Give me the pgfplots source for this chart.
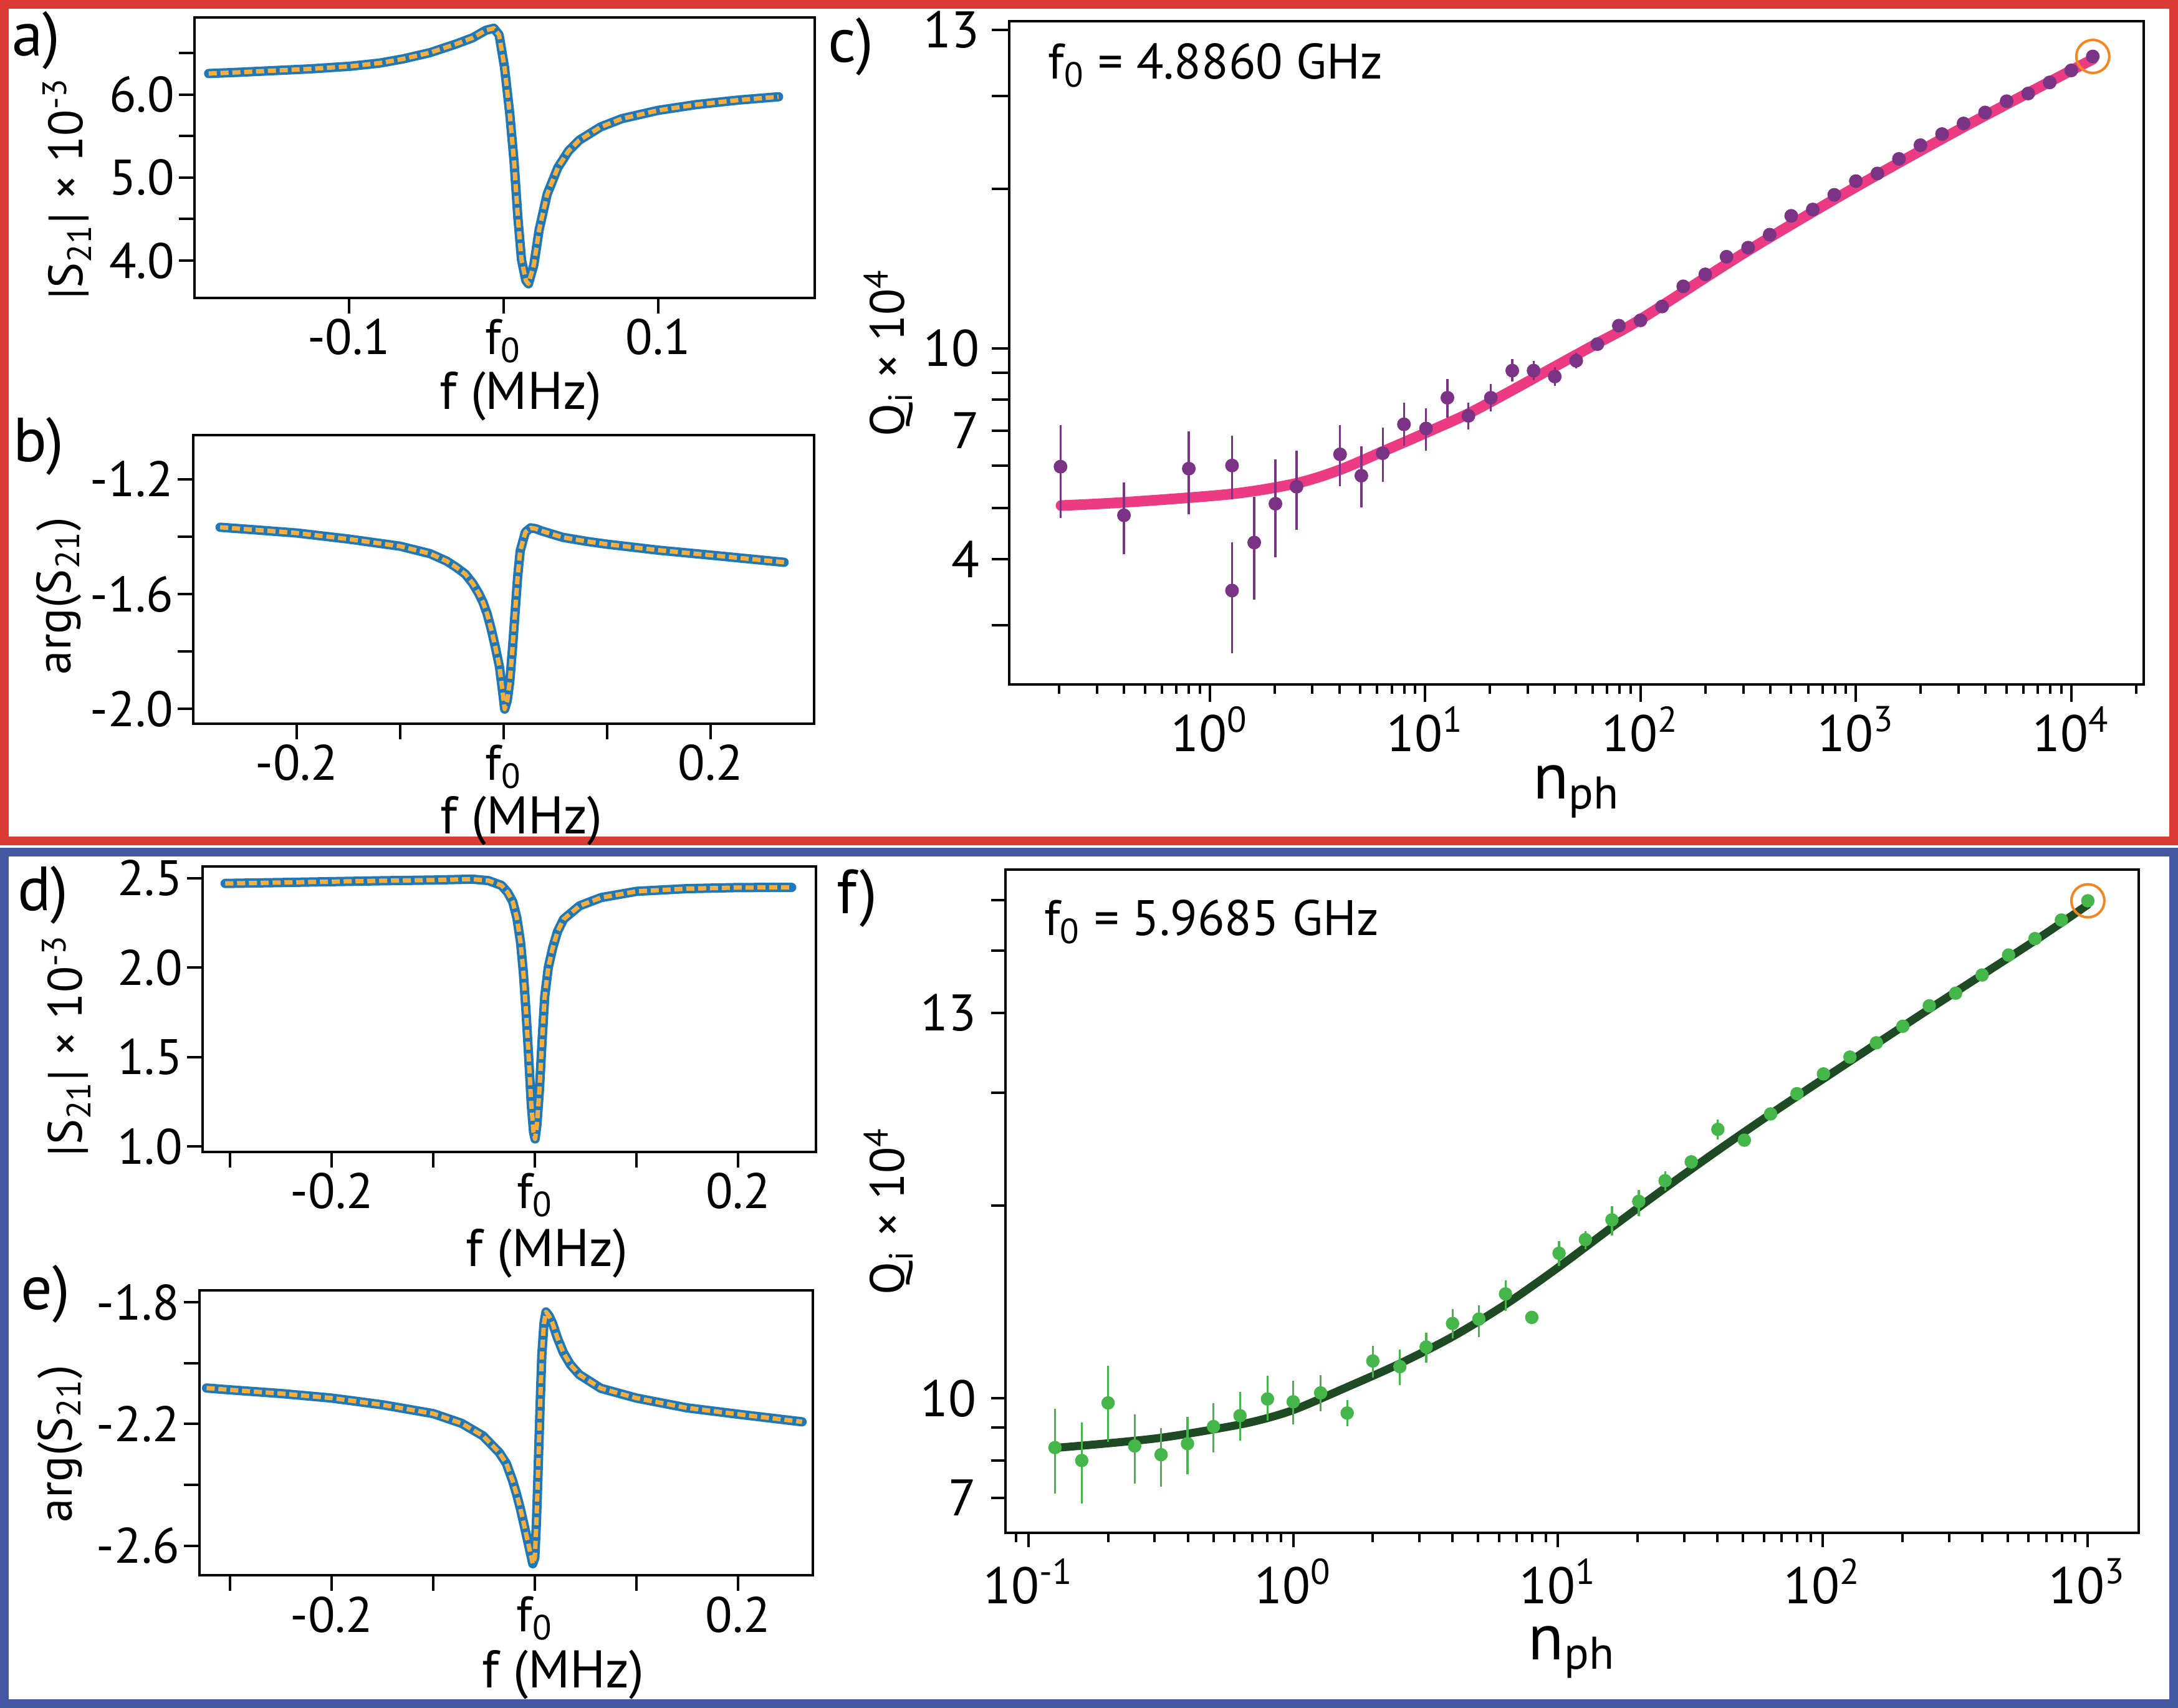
\documentclass[border=0pt]{standalone}
\usepackage{fontspec}
\setmainfont{PT Sans}
\usepackage{pgfplots}
\usepackage{pgfplotstable}
\pgfplotsset{compat=1.18}
\definecolor{cred}{HTML}{DC3A34}
\definecolor{cblue}{HTML}{4458A2}
\definecolor{lineblue}{HTML}{1F78B8}
\definecolor{dotorange}{HTML}{F8AE3E}
\definecolor{cpurple}{HTML}{7B3386}
\definecolor{cpink}{HTML}{EC3A83}
\definecolor{cgreen}{HTML}{45B649}
\definecolor{cdkgreen}{HTML}{1E4A24}
\definecolor{corange}{HTML}{F4861F}

\pgfplotstableread{
x y
-0.1907 6.254
-0.17 6.27
-0.151 6.287
-0.125 6.31
-0.099 6.342
-0.08 6.38
-0.065 6.43
-0.0476 6.505
-0.0303 6.612
-0.02 6.684
-0.0114 6.775
-0.0062 6.80
-0.0028 6.72
0.0007 6.33
0.0041 5.77
0.0069 5.19
0.0093 4.53
0.0117 4.01
0.0145 3.76
0.0162 3.72
0.0197 3.95
0.0231 4.37
0.0283 4.80
0.0352 5.12
0.0421 5.32
0.049 5.45
0.0628 5.61
0.0766 5.71
0.1 5.81
0.1248 5.88
0.1524 5.935
0.178 5.974
}\dataA

\pgfplotstableread{
x y
-0.274 -1.367
-0.24 -1.376
-0.2 -1.387
-0.15 -1.408
-0.1 -1.433
-0.071 -1.459
-0.055 -1.485
-0.046 -1.506
-0.037 -1.530
-0.03 -1.562
-0.024 -1.598
-0.02 -1.628
-0.016 -1.668
-0.012 -1.722
-0.008 -1.785
-0.004 -1.854
-0.001 -1.94
0.001 -2.0
0.0035 -1.97
0.006 -1.901
0.0085 -1.79
0.011 -1.666
0.0135 -1.54
0.016 -1.449
0.021 -1.384
0.026 -1.369
0.031 -1.372
0.036 -1.379
0.057 -1.402
0.08 -1.416
0.1 -1.426
0.15 -1.447
0.2 -1.464
0.271 -1.489
}\dataB

\pgfplotstableread{
x y
-0.305 2.470
-0.25 2.475
-0.2 2.480
-0.15 2.485
-0.1 2.489
-0.062 2.494
-0.046 2.486
-0.033 2.459
-0.027 2.42
-0.022 2.368
-0.018 2.28
-0.0143 2.141
-0.0115 1.97
-0.009 1.762
-0.0065 1.52
-0.0037 1.232
-0.0015 1.08
0.0 1.042
0.0018 1.12
0.0042 1.308
0.007 1.60
0.0095 1.838
0.0130 2.0
0.0174 2.111
0.0220 2.20
0.028 2.27
0.0438 2.345
0.065 2.391
0.1 2.426
0.1495 2.441
0.2 2.447
0.2525 2.448
}\dataD

\pgfplotstableread{
x y
-0.323 -2.082
-0.3 -2.088
-0.25 -2.100
-0.2 -2.115
-0.15 -2.137
-0.1 -2.166
-0.072 -2.198
-0.051 -2.239
-0.035 -2.294
-0.028 -2.33
-0.022 -2.385
-0.018 -2.43
-0.0143 -2.477
-0.0100 -2.54
-0.0063 -2.595
-0.002 -2.659
0.0000 -2.64
0.0016 -2.522
0.0029 -2.39
0.0042 -2.248
0.0056 -2.10
0.0069 -1.974
0.0090 -1.87
0.011 -1.832
0.0140 -1.845
0.0174 -1.869
0.022 -1.915
0.028 -1.965
0.035 -2.005
0.0438 -2.038
0.065 -2.083
0.1 -2.115
0.1495 -2.147
0.2 -2.168
0.263 -2.193
}\dataE

\pgfplotstableread{
x y
0.203 5.98
0.40 4.84
0.80 5.93
1.27 6.01
1.27 3.49
1.61 4.30
2.02 5.09
2.53 5.48
4.03 6.31
5.06 5.75
6.36 6.34
7.98 7.19
10.1 7.06
12.7 8.07
15.9 7.46
20.2 8.07
25.4 9.08
31.9 9.08
40.0 8.85
50.3 9.48
63.1 10.19
79.4 11.04
100 11.3
126 12.0
158 13.1
200 13.8
251 14.9
316 15.5
398 16.4
501 17.8
631 18.3
794 19.5
1000 20.7
1259 21.4
1585 22.8
1995 24.2
2512 25.4
3162 26.6
3981 27.9
5012 29.3
6310 30.3
7943 31.8
10000 33.5
12589 35.6
}\dotsC

\pgfplotstableread{
x y
0.204 5.05
0.398 5.12
1.259 5.31
2.512 5.56
3.981 5.89
6.310 6.38
10 6.92
15.85 7.53
25.12 8.32
39.81 9.23
63.10 10.23
100 11.35
316.2 15.31
1000 20.18
3162 26.18
10000 33.50
12589 35.16
}\fitC

\pgfplotstableread{
x y
0.126 8.38
0.159 8.00
0.200 9.84
0.252 8.43
0.317 8.17
0.399 8.50
0.50 9.04
0.63 9.40
0.80 9.98
1.0 9.88
1.27 10.2
1.6 9.49
2.0 11.44
2.53 11.21
3.18 12.03
4.0 13.09
5.03 13.3
6.34 14.56
7.97 13.38
10.1 16.85
12.7 17.7
16.0 19.0
20.2 20.3
25.4 21.87
31.9 23.4
40.2 26.3
50.6 25.3
63.6 27.8
80.0 29.9
100.7 32.1
126.8 34.1
159.6 35.9
200.8 38.1
252.8 41.0
317.9 42.9
400.2 45.8
503.8 49.2
634.0 52.2
797.7 55.8
1004 59.8
}\dotsF

\pgfplotstableread{
x y
0.1259 8.37
0.1995 8.51
0.3162 8.68
0.5012 8.95
0.7079 9.20
1 9.59
1.585 10.40
2.512 11.32
3.981 12.47
6.310 14.0
10 16.0
15.85 18.45
25.12 21.23
39.81 24.32
63.10 27.73
100 31.48
251.2 40.46
631 51.76
1000 58.9
}\fitF

\pgfplotsset{
  panel/.style={
    scale only axis, anchor=south west,
    axis line style={line width=0.8pt},
    tick style={line width=0.8pt, black},
    tick align=outside, xtick pos=bottom, ytick pos=left,
    major tick length=5pt, minor tick length=3pt,
    tick label style={font=\fontsize{16}{18}\selectfont},
    xticklabel style={inner sep=1.6pt},
    yticklabel style={inner sep=1.2pt},
    ylabel style={font=\fontsize{15.5}{19}\selectfont, anchor=center},
    xlabel style={font=\fontsize{17}{20}\selectfont, anchor=center},
  },
  qpanel/.style={
    panel,
    tick label style={font=\fontsize{16.5}{19}\selectfont},
    ylabel style={font=\fontsize{15.5}{19}\selectfont, anchor=center},
    xlabel style={font=\fontsize{21}{25}\selectfont, anchor=center},
  },
  specblue/.style={draw=lineblue, line width=3pt, line join=round, line cap=round},
  specorange/.style={draw=dotorange, line width=1.4pt, dash pattern=on 2.6pt off 1.2pt, line join=round},
  ebc/.style={draw=cpurple, line width=0.65pt, forget plot},
  ebf/.style={draw=cgreen, line width=0.65pt, forget plot},
}

\begin{document}
\begin{tikzpicture}
\useasboundingbox (0pt,0pt) rectangle (698.8pt,548pt);
\fill[white] (0pt,0pt) rectangle (698.8pt,548pt);
\draw[cred, line width=2.8pt] (1.4pt,278.2pt) rectangle (697.4pt,546.6pt);
\draw[cblue, line width=2.8pt] (1.4pt,1.4pt) rectangle (697.4pt,274.6pt);

% ---------------- panel a
\begin{axis}[panel, at={(62.34pt,452.4pt)}, width=199.06pt, height=90pt,
  xmin=-0.2, xmax=0.2014, ymin=3.55, ymax=6.93,
  xtick={-0.1,0,0.1}, xticklabels={-0.1,f\textsubscript{0},0.1},
  ytick={4,4.5,5,5.5,6,6.5}, yticklabels={4.0,,5.0,,6.0,},
  xlabel={f (MHz)}, ylabel={|S\textsubscript{21}| × 10\textsuperscript{-3}},
  xlabel style={at={(axis description cs:0.526,-0.351)}},
  ylabel style={at={(axis description cs:-0.205,0.39)}}]
\addplot[specblue] table {\dataA};
\addplot[specorange] table {\dataA};
\end{axis}

% ---------------- panel b
\begin{axis}[panel, at={(62.0pt,315.8pt)}, width=199.2pt, height=92.6pt,
  xmin=-0.3, xmax=0.3, ymin=-2.051, ymax=-1.046,
  xtick={-0.2,-0.1,0,0.1,0.2}, xticklabels={-0.2,,f\textsubscript{0},,0.2},
  ytick={-2.0,-1.8,-1.6,-1.4,-1.2}, yticklabels={-2.0,,-1.6,,-1.2},
  xlabel={f (MHz)}, ylabel={arg(S\textsubscript{21})},
  xlabel style={at={(axis description cs:0.529,-0.336)}},
  ylabel style={at={(axis description cs:-0.216,0.443)}}]
\addplot[specblue] table {\dataB};
\addplot[specorange] table {\dataB};
\end{axis}

% ---------------- panel d
\begin{axis}[panel, at={(64.92pt,178.4pt)}, width=196.82pt, height=91.6pt,
  xmin=-0.3275, xmax=0.2763, ymin=0.969, ymax=2.565,
  xtick={-0.3,-0.2,-0.1,0,0.1,0.2}, xticklabels={,-0.2,,f\textsubscript{0},,0.2},
  ytick={1.0,1.5,2.0,2.5}, yticklabels={1.0,1.5,2.0,2.5},
  xlabel={f (MHz)}, ylabel={|S\textsubscript{21}| × 10\textsuperscript{-3}},
  xlabel style={at={(axis description cs:0.562,-0.356)}},
  ylabel style={at={(axis description cs:-0.222,0.373)}}]
\addplot[specblue] table {\dataD};
\addplot[specorange] table {\dataD};
\end{axis}

% ---------------- panel e
\begin{axis}[panel, at={(64.0pt,42.5pt)}, width=196.8pt, height=91.5pt,
  xmin=-0.330, xmax=0.2736, ymin=-2.698, ymax=-1.761,
  xtick={-0.3,-0.2,-0.1,0,0.1,0.2}, xticklabels={,-0.2,,f\textsubscript{0},,0.2},
  ytick={-2.6,-2.4,-2.2,-2.0,-1.8}, yticklabels={-2.6,,-2.2,,-1.8},
  xlabel={f (MHz)}, ylabel={arg(S\textsubscript{21})},
  xlabel style={at={(axis description cs:0.593,-0.348)}},
  ylabel style={at={(axis description cs:-0.227,0.462)}}]
\addplot[specblue] table {\dataE};
\addplot[specorange] table {\dataE};
\end{axis}

% ---------------- panel c
\begin{loglogaxis}[qpanel, at={(323.8pt,328.4pt)}, width=364pt, height=212.8pt,
  xmin=0.1173, xmax=21700, ymin=2.32, ymax=41.5,
  major tick length=5.6pt, minor tick length=3pt,
  xtick={1,10,100,1000,10000},
  xticklabels={10\textsuperscript{0},10\textsuperscript{1},10\textsuperscript{2},10\textsuperscript{3},10\textsuperscript{4}},
  minor xtick={0.2,0.3,0.4,0.5,0.6,0.7,0.8,0.9,2,3,4,5,6,7,8,9,20,30,40,50,60,70,80,90,200,300,400,500,600,700,800,900,2000,3000,4000,5000,6000,7000,8000,9000,20000},
  ytick={3,4,5,6,7,8,9,10,20,30,40}, yticklabels={,4,,,7,,,10,,,13},
  xticklabel style={inner sep=1.3pt}, yticklabel style={inner sep=3.8pt},
  xlabel={n\textsubscript{ph}}, ylabel={Q\kern0.5pt\textsubscript{i} × 10\textsuperscript{4}},
  xlabel style={at={(axis description cs:0.5,-0.162)}},
  ylabel style={at={(axis description cs:-0.1066,0.50)}}]
\addplot[draw=cpink, line width=3.4pt, smooth, line cap=round] table {\fitC};
\addplot[ebc] coordinates {(0.203,4.79)(0.203,7.16)};
\addplot[ebc] coordinates {(0.40,4.09)(0.40,5.58)};
\addplot[ebc] coordinates {(0.80,4.86)(0.80,6.97)};
\addplot[ebc] coordinates {(1.27,5.19)(1.27,6.84)};
\addplot[ebc] coordinates {(1.27,2.66)(1.27,4.30)};
\addplot[ebc] coordinates {(1.61,3.35)(1.61,5.25)};
\addplot[ebc] coordinates {(2.02,4.03)(2.02,6.17)};
\addplot[ebc] coordinates {(2.53,4.54)(2.53,6.41)};
\addplot[ebc] coordinates {(4.03,5.50)(4.03,7.16)};
\addplot[ebc] coordinates {(5.06,5.01)(5.06,6.53)};
\addplot[ebc] coordinates {(6.36,5.60)(6.36,7.08)};
\addplot[ebc] coordinates {(7.98,6.56)(7.98,7.89)};
\addplot[ebc] coordinates {(10.1,6.41)(10.1,7.71)};
\addplot[ebc] coordinates {(12.7,7.41)(12.7,8.75)};
\addplot[ebc] coordinates {(15.9,7.03)(15.9,7.91)};
\addplot[ebc] coordinates {(20.2,7.60)(20.2,8.56)};
\addplot[ebc] coordinates {(25.4,8.66)(25.4,9.56)};
\addplot[ebc] coordinates {(31.9,8.71)(31.9,9.47)};
\addplot[ebc] coordinates {(40.0,8.49)(40.0,9.22)};
\addplot[ebc] coordinates {(50.3,9.17)(50.3,9.80)};
\addplot[ebc] coordinates {(63.1,9.93)(63.1,10.45)};
\addplot[ebc] coordinates {(79.4,10.75)(79.4,11.3)};
\addplot[ebc] coordinates {(100,11.0)(100,11.6)};
\addplot[ebc] coordinates {(126,11.7)(126,12.3)};
\addplot[only marks, mark=*, mark size=2pt, mark options={draw=cpurple, fill=cpurple}] table {\dotsC};
\addplot[only marks, mark=o, mark size=5.3pt, mark options={draw=corange, line width=0.8pt}] coordinates {(12589,35.6)};
\node[anchor=base west, font=\fontsize{16}{19}\selectfont] at (rel axis cs:0.0247,0.9126) {f\textsubscript{0} = 4.8860 GHz};
\end{loglogaxis}

% ---------------- panel f
\begin{loglogaxis}[qpanel, at={(322.5pt,56.2pt)}, width=363.7pt, height=212.8pt,
  xmin=0.0817, xmax=1563, ymin=6.17, ymax=66.9,
  major tick length=4.6pt, minor tick length=3pt,
  xtick={0.1,1,10,100,1000},
  xticklabels={10\textsuperscript{-1},10\textsuperscript{0},10\textsuperscript{1},10\textsuperscript{2},10\textsuperscript{3}},
  minor xtick={0.09,0.2,0.3,0.4,0.5,0.6,0.7,0.8,0.9,2,3,4,5,6,7,8,9,20,30,40,50,60,70,80,90,200,300,400,500,600,700,800,900},
  ytick={7,8,9,10,20,30,40,50,60}, yticklabels={7,,,10,,,13,,},
  xticklabel style={inner sep=3.5pt}, yticklabel style={inner sep=4.4pt},
  xlabel={n\textsubscript{ph}}, ylabel={Q\kern0.5pt\textsubscript{i} × 10\textsuperscript{4}},
  xlabel style={at={(axis description cs:0.5,-0.18)}},
  ylabel style={at={(axis description cs:-0.103,0.485)}}]
\addplot[draw=cdkgreen, line width=2.6pt, smooth, line cap=round] table {\fitF};
\addplot[ebf] coordinates {(0.126,7.10)(0.126,9.64)};
\addplot[ebf] coordinates {(0.159,6.86)(0.159,9.17)};
\addplot[ebf] coordinates {(0.200,8.55)(0.200,11.25)};
\addplot[ebf] coordinates {(0.252,7.36)(0.252,9.45)};
\addplot[ebf] coordinates {(0.317,7.29)(0.317,8.99)};
\addplot[ebf] coordinates {(0.399,7.61)(0.399,9.36)};
\addplot[ebf] coordinates {(0.50,8.24)(0.50,9.84)};
\addplot[ebf] coordinates {(0.63,8.59)(0.63,10.24)};
\addplot[ebf] coordinates {(0.80,9.23)(0.80,10.84)};
\addplot[ebf] coordinates {(1.0,9.12)(1.0,10.66)};
\addplot[ebf] coordinates {(1.27,9.55)(1.27,10.88)};
\addplot[ebf] coordinates {(1.6,9.04)(1.6,9.94)};
\addplot[ebf] coordinates {(2.0,10.77)(2.0,12.07)};
\addplot[ebf] coordinates {(2.53,10.5)(2.53,11.91)};
\addplot[ebf] coordinates {(3.18,11.37)(3.18,12.65)};
\addplot[ebf] coordinates {(4.0,12.4)(4.0,13.78)};
\addplot[ebf] coordinates {(5.03,12.47)(5.03,13.97)};
\addplot[ebf] coordinates {(6.34,13.71)(6.34,15.3)};
\addplot[ebf] coordinates {(10.1,16.1)(10.1,17.6)};
\addplot[ebf] coordinates {(12.7,17.09)(12.7,18.24)};
\addplot[ebf] coordinates {(16.0,17.97)(16.0,19.94)};
\addplot[ebf] coordinates {(20.2,19.27)(20.2,21.17)};
\addplot[ebf] coordinates {(25.4,21.09)(25.4,22.62)};
\addplot[ebf] coordinates {(31.9,22.8)(31.9,24.0)};
\addplot[ebf] coordinates {(40.2,25.35)(40.2,27.26)};
\addplot[only marks, mark=*, mark size=1.95pt, mark options={draw=cgreen, fill=cgreen}] table {\dotsF};
\addplot[only marks, mark=o, mark size=5.3pt, mark options={draw=corange, line width=0.8pt}] coordinates {(1004,59.8)};
\node[anchor=base west, font=\fontsize{16}{19}\selectfont] at (rel axis cs:0.0248,0.9007) {f\textsubscript{0} = 5.9685 GHz};
\end{loglogaxis}

% panel letters
\begin{scope}[every node/.style={font=\fontsize{20}{23}\selectfont, anchor=center}]
\node at (11.6pt,535pt) {a)};
\node at (12.4pt,404.8pt) {b)};
\node at (273pt,533pt) {c)};
\node at (13.8pt,260.8pt) {d)};
\node at (14.6pt,132.8pt) {e)};
\node at (275pt,259.8pt) {f)};
\end{scope}
\end{tikzpicture}
\end{document}
